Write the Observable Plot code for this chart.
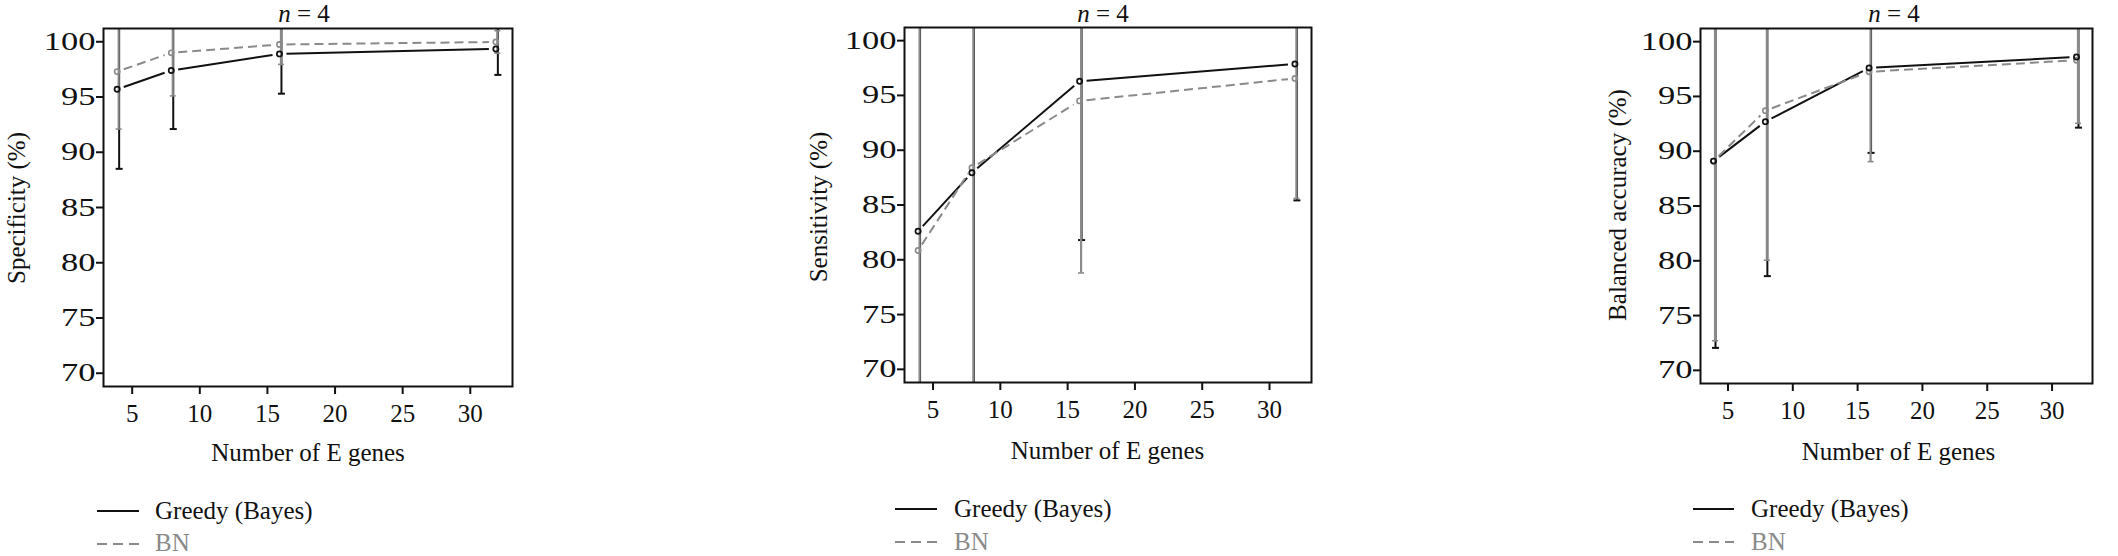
<!DOCTYPE html>
<html><head><meta charset="utf-8">
<script src="https://cdn.jsdelivr.net/npm/d3@7"></script>
<script src="https://cdn.jsdelivr.net/npm/@observablehq/plot@0.6"></script>
<style>
body{margin:0;background:#fff;}
#root{position:relative;width:2118px;height:556px;overflow:hidden;font-family:"Liberation Serif","DejaVu Serif","Times New Roman",Times,serif;}
#root svg.panel{position:absolute;top:0;}
#root svg text{font-family:"Liberation Serif","DejaVu Serif","Times New Roman",Times,serif;}
#overlay{position:absolute;left:0;top:0;}
</style></head><body><div id="root"></div>
<script>
// ---------- data ----------
const genes = [4, 8, 16, 32];
const methods = ["Greedy (Bayes)", "BN"];
const yLabels = ["Specificity (%)", "Sensitivity (%)", "Balanced accuracy (%)"];
const xLabel = "Number of E genes";
const yTicks = [70, 75, 80, 85, 90, 95, 100];
const xTicks = [5, 10, 15, 20, 25, 30];

const specGreedy   = [95.7, 97.4, 98.9, 99.35];
const specGreedySd = [7.2, 5.3, 3.6, 2.35];
const specBN       = [97.3, 99.0, 99.75, 99.98];
const specBNSd     = [5.2, 3.9, 1.8, 1.02];

const sensGreedy   = [82.6, 87.95, 96.3, 97.87];
const sensGreedySd = [22.0, 22.0, 14.5, 12.45];
const sensBN       = [80.85, 88.4, 94.5, 96.55];
const sensBNSd     = [25.0, 24.0, 15.7, 10.95];

const baccGreedy   = [89.1, 92.7, 97.6, 98.6];
const baccGreedySd = [17.05, 14.1, 7.75, 6.45];
const baccBN       = [89.1, 93.7, 97.25, 98.3];
const baccBNSd     = [16.4, 13.65, 8.2, 5.75];

// ---------- layout / style ----------
const FONT = '"Liberation Serif", "DejaVu Serif", "Times New Roman", Times, serif';
const BLACK = "#111111";
const GREY = "#8a8a8a";
const yDomain = [68.8, 101.2];
const xDomain = [2.88, 33.12];

const panels = [
  {greedy: specGreedy, greedySd: specGreedySd, bn: specBN, bnSd: specBNSd, ylab: yLabels[0],
   left: 103, right: 512, top: 28, bottom: 386,
   titleX: 304, titleY: 22, ylabX: 24.5, ylabY: 208, xlabX: 308, xlabY: 461,
   legX1: 97, legX2: 139, legTextX: 155, legY: 511, legTextY: 518.5},
  {greedy: sensGreedy, greedySd: sensGreedySd, bn: sensBN, bnSd: sensBNSd, ylab: yLabels[1],
   left: 904, right: 1311, top: 27, bottom: 382,
   titleX: 1103, titleY: 22, ylabX: 826.5, ylabY: 207, xlabX: 1107.5, xlabY: 459,
   legX1: 895, legX2: 937, legTextX: 954, legY: 509, legTextY: 517},
  {greedy: baccGreedy, greedySd: baccGreedySd, bn: baccBN, bnSd: baccBNSd, ylab: yLabels[2],
   left: 1700, right: 2092, top: 28, bottom: 383,
   titleX: 1894, titleY: 22, ylabX: 1625.5, ylabY: 205, xlabX: 1898.5, xlabY: 460,
   legX1: 1693, legX2: 1734, legTextX: 1751, legY: 509, legTextY: 517}
];

const capSymbol = {
  draw(ctx, size) {
    const w = Math.sqrt(size / Math.PI);
    ctx.moveTo(-w, 0); ctx.lineTo(w, 0);
  }
};

function makeScale(domain, range) {
  if (Plot.scale) return Plot.scale({x: {type: "linear", domain, range}});
  const s = d3.scaleLinear(domain, range);
  return {apply: s, invert: s.invert};
}

function gapSegments(xs, ys, sx, sy, gap) {
  const segs = [];
  for (let i = 0; i < xs.length - 1; i++) {
    const x0 = sx.apply(xs[i]), y0 = sy.apply(ys[i]);
    const x1 = sx.apply(xs[i + 1]), y1 = sy.apply(ys[i + 1]);
    const dx = x1 - x0, dy = y1 - y0, L = Math.hypot(dx, dy);
    if (L <= 2 * gap) continue;
    const ux = dx / L, uy = dy / L;
    segs.push({
      x1: sx.invert(x0 + ux * gap), y1: sy.invert(y0 + uy * gap),
      x2: sx.invert(x1 - ux * gap), y2: sy.invert(y1 - uy * gap)
    });
  }
  return segs;
}

function bars(means, sds) {
  return genes.map((g, i) => {
    const lo = means[i] - sds[i], hi = means[i] + sds[i];
    return {x: g, lo: Math.max(lo, yDomain[0]), hi: Math.min(hi, yDomain[1]), loIn: lo >= yDomain[0], hiIn: hi <= yDomain[1], rawLo: lo, rawHi: hi};
  });
}
function caps(b) {
  const out = [];
  for (const d of b) {
    if (d.loIn) out.push({x: d.x, y: d.rawLo});
    if (d.hiIn) out.push({x: d.x, y: d.rawHi});
  }
  return out;
}

const root = document.getElementById("root");
const ML = 103, MR = 20, MB = 60;

panels.forEach((p) => {
  const frameW = p.right - p.left;
  const width = ML + frameW + MR;
  const height = p.bottom + MB;
  const sx = makeScale(xDomain, [ML, ML + frameW]);
  const sy = makeScale(yDomain, [p.bottom, p.top]);
  const gSeg = gapSegments(genes, p.greedy, sx, sy, 7);
  const bSeg = gapSegments(genes, p.bn, sx, sy, 7);
  const gBars = bars(p.greedy, p.greedySd);
  const bBars = bars(p.bn, p.bnSd);
  const gPts = genes.map((g, i) => ({x: g, y: p.greedy[i]}));
  const bPts = genes.map((g, i) => ({x: g, y: p.bn[i]}));

  const chart = Plot.plot({
    width, height,
    marginLeft: ML, marginRight: MR, marginTop: p.top, marginBottom: MB,
    style: {fontFamily: FONT, fontSize: "25px", color: BLACK, background: "transparent", overflow: "visible"},
    x: {type: "linear", domain: xDomain, label: null},
    y: {type: "linear", domain: yDomain, label: null},
    marks: [
      Plot.link(gSeg, {x1: "x1", y1: "y1", x2: "x2", y2: "y2", stroke: BLACK, strokeWidth: 2, dx: -1.5}),
      Plot.link(bSeg, {x1: "x1", y1: "y1", x2: "x2", y2: "y2", stroke: GREY, strokeWidth: 2, strokeDasharray: "9,5", dx: -1.5}),
      Plot.ruleX(gBars, {x: "x", y1: "lo", y2: "hi", stroke: BLACK, strokeWidth: 2, dx: 0.5}),
      Plot.dot(caps(gBars), {x: "x", y: "y", symbol: capSymbol, r: 3.5, stroke: BLACK, strokeWidth: 2, fill: "none", dx: 0.5}),
      Plot.ruleX(bBars, {x: "x", y1: "lo", y2: "hi", stroke: GREY, strokeWidth: 2.2}),
      Plot.dot(caps(bBars), {x: "x", y: "y", symbol: capSymbol, r: 3, stroke: GREY, strokeWidth: 1.6, fill: "none"}),
      Plot.dot(bPts, {x: "x", y: "y", r: 2.6, stroke: GREY, strokeWidth: 1.6, fill: "none", dx: -1.5}),
      Plot.dot(gPts, {x: "x", y: "y", r: 2.6, stroke: BLACK, strokeWidth: 1.7, fill: "none", dx: -1.5}),
      Plot.axisY({ticks: yTicks, tickSize: 7, tickPadding: 1, fontSize: 25, label: null, stroke: BLACK, strokeWidth: 2, fill: BLACK}),
      Plot.axisX({ticks: xTicks, tickSize: 8, tickPadding: 10, fontSize: 25, label: null, stroke: BLACK, strokeWidth: 2, fill: BLACK}),
      Plot.frame({stroke: BLACK, strokeWidth: 2})
    ]
  });
  chart.classList.add("panel");
  chart.style.left = (p.left - ML) + "px";
  root.appendChild(chart);
  // widen y tick labels to mimic the reference's broad figures
  d3.select(chart).selectAll('g[aria-label="y-axis tick label"] text').each(function () {
    const len = this.getComputedTextLength();
    this.setAttribute("textLength", (len * 1.38).toFixed(1));
    this.setAttribute("lengthAdjust", "spacingAndGlyphs");
  });
});

// ---------- overlay text: titles, axis labels, legends ----------
const ov = d3.select(root).append("svg").attr("id", "overlay")
  .attr("width", 2118).attr("height", 556)
  .style("font-family", FONT).style("font-size", "25px");

panels.forEach((p) => {
  const t = ov.append("text").attr("x", p.titleX).attr("y", p.titleY).attr("text-anchor", "middle").attr("fill", BLACK);
  t.append("tspan").attr("font-style", "italic").text("n");
  t.append("tspan").text(" = 4");

  ov.append("text").attr("transform", `translate(${p.ylabX},${p.ylabY}) rotate(-90)`)
    .attr("text-anchor", "middle").attr("fill", BLACK).text(p.ylab);

  ov.append("text").attr("x", p.xlabX).attr("y", p.xlabY).attr("text-anchor", "middle").attr("fill", BLACK).text(xLabel);

  ov.append("line").attr("x1", p.legX1).attr("x2", p.legX2).attr("y1", p.legY).attr("y2", p.legY)
    .attr("stroke", BLACK).attr("stroke-width", 2);
  ov.append("text").attr("x", p.legTextX).attr("y", p.legTextY).attr("fill", BLACK).text(methods[0]);
  ov.append("line").attr("x1", p.legX1).attr("x2", p.legX2).attr("y1", p.legY + 33).attr("y2", p.legY + 33)
    .attr("stroke", GREY).attr("stroke-width", 2).attr("stroke-dasharray", "10,6");
  ov.append("text").attr("x", p.legTextX).attr("y", p.legTextY + 32.5).attr("fill", GREY).text(methods[1]);
});
</script>
</body></html>
